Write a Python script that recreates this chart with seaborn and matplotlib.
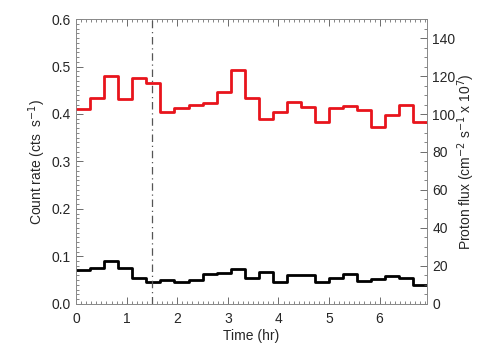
import numpy as np
import pandas as pd
import matplotlib
matplotlib.use("Agg")
import matplotlib.pyplot as plt
from matplotlib.ticker import MultipleLocator
import seaborn as sns

# binned light curve, 1000 s bins
bin_hr = 1000.0 / 3600.0
count_rate = [0.072, 0.075, 0.091, 0.075, 0.054, 0.047, 0.051, 0.045, 0.051, 0.063,
              0.065, 0.074, 0.054, 0.067, 0.045, 0.061, 0.061, 0.046, 0.055, 0.063,
              0.048, 0.053, 0.059, 0.054, 0.040]
proton_flux = [102.5, 108.3, 119.8, 107.8, 119.0, 116.5, 100.8, 103.3, 104.8, 106.0,
               111.8, 123.3, 108.3, 97.3, 101.3, 106.3, 103.8, 96.0, 103.0, 104.0,
               102.0, 93.0, 99.5, 104.8, 95.8]
t_mark = 1.5

edges = np.arange(len(count_rate) + 1) * bin_hr
df = pd.DataFrame({
    "time": edges,
    "rate": count_rate + [count_rate[-1]],
    "flux": proton_flux + [proton_flux[-1]],
})

sns.set_theme(style="ticks")
plt.rcParams["font.family"] = ["Liberation Sans", "DejaVu Sans"]
plt.rcParams["xtick.direction"] = "in"
plt.rcParams["ytick.direction"] = "in"
plt.rcParams["axes.linewidth"] = 0.6

fig = plt.figure(figsize=(5.04, 3.6), dpi=100)
ax = fig.add_axes([0.151, 0.156, 0.696, 0.791])
ax2 = ax.twinx()

sns.lineplot(data=df, x="time", y="rate", ax=ax, color="black", lw=2,
             drawstyle="steps-post")
sns.lineplot(data=df, x="time", y="flux", ax=ax2, color="#e8141c", lw=2,
             drawstyle="steps-post")
ax.axvline(t_mark, color="#555555", lw=0.9, ls=(0, (6, 3, 1, 3)))

ax.set_xlim(0, edges[-1] - 0.01)
ax.set_ylim(0, 0.6)
ax2.set_ylim(0, 150)

ax.xaxis.set_major_locator(MultipleLocator(1))
ax.xaxis.set_minor_locator(MultipleLocator(0.1))
ax.yaxis.set_major_locator(MultipleLocator(0.1))
ax.yaxis.set_minor_locator(MultipleLocator(0.01))
ax2.yaxis.set_major_locator(MultipleLocator(20))
ax2.yaxis.set_minor_locator(MultipleLocator(5))
ax.yaxis.set_major_formatter(matplotlib.ticker.FormatStrFormatter("%.1f"))

ax.tick_params(which="both", top=True, right=False, labelsize=10, color="#555555")
ax.tick_params(which="major", length=5, width=0.6)
ax.tick_params(which="minor", length=2.5, width=0.5)
ax.tick_params(axis="x", which="major", pad=6)
ax.tick_params(axis="y", which="major", pad=4)
ax2.tick_params(which="both", labelsize=10, color="#555555")
ax2.tick_params(which="major", length=5, width=0.6, pad=4)
ax2.tick_params(which="minor", length=2.5, width=0.5)

for a in (ax, ax2):
    for s in a.spines.values():
        s.set_visible(True)
        s.set_color("#888888")

ax.set_xlabel("Time (hr)", fontsize=10, labelpad=2)
ax.set_ylabel("Count rate (cts  s$^{-1}$)", fontsize=10, labelpad=2)
ax2.set_ylabel("Proton flux (cm$^{-2}$ s$^{-1}$ x 10$^{7}$)", fontsize=10, labelpad=0)

fig.savefig("out.png", dpi=100)
